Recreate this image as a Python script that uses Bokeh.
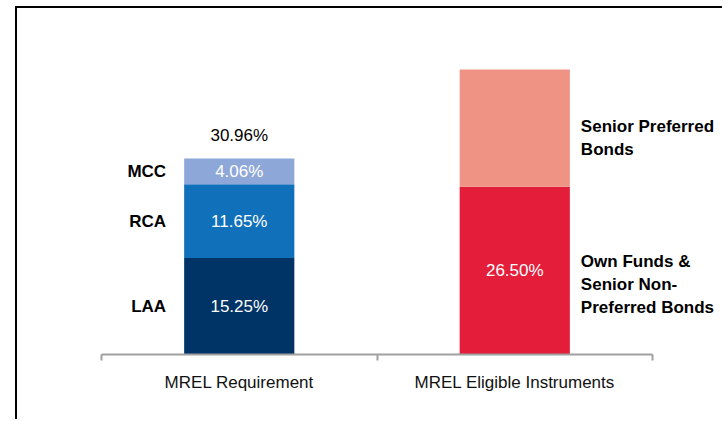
from bokeh.plotting import figure
from bokeh.models import ColumnDataSource, Range1d, FixedTicker
from bokeh.core.properties import value
from bokeh.embed import file_html
from bokeh.resources import INLINE

# ---- data ----
categories = ["MREL Requirement", "MREL Eligible Instruments"]
req_components = ["LAA", "RCA", "MCC"]
req_values = [15.25, 11.65, 4.06]
req_colors = ["#003366", "#1170BA", "#8DA8D8"]
req_total_label = "30.96%"

elig_components = ["Own Funds &\nSenior Non-\nPreferred Bonds", "Senior Preferred\nBonds"]
elig_values = [26.50, 18.5]
elig_value_labels = ["26.50%", ""]
elig_colors = ["#E31D3A", "#EF9385"]

FONT = "Liberation Sans"
FS = "17px"

# frame: left 84px, extends to the canvas' right edge so labels beside the bar are not clipped
p = figure(width=707, height=413, output_backend="svg", toolbar_location=None,
           x_range=Range1d(0, 2.2613), y_range=Range1d(0, 49.6),
           min_border_left=84, min_border_right=0, min_border_top=32, min_border_bottom=67)
p.styles = {"margin-left": "15px", "margin-top": "6px",
            "border-left": "2px solid black", "border-top": "2px solid black"}
p.outline_line_color = None
p.xgrid.visible = False
p.ygrid.visible = False
p.yaxis.visible = False

def stack(vals):
    bottoms, tops = [], []
    acc = 0.0
    for v in vals:
        bottoms.append(acc)
        acc += v
        tops.append(acc)
    return bottoms, tops

xc = [0.5, 1.5]
bw = 0.4

rb, rt = stack(req_values)
src_r = ColumnDataSource(dict(x=[xc[0]] * len(req_values), bottom=rb, top=rt,
                              mid=[(a + b) / 2 for a, b in zip(rb, rt)],
                              color=req_colors, name=req_components,
                              lab=[f"{v:.2f}%" for v in req_values],
                              xl=[xc[0] - bw / 2] * len(req_values)))
p.vbar(x="x", bottom="bottom", top="top", width=bw, fill_color="color", line_color=None, source=src_r)
p.text(x="x", y="mid", text="lab", source=src_r, text_color="white", text_align="center",
       text_baseline="middle", text_font=value(FONT), text_font_size=FS)
p.text(x="xl", y="mid", text="name", source=src_r, text_color="black", text_align="right",
       text_baseline="middle", text_font=value(FONT), text_font_size=FS,
       text_font_style="bold", x_offset=-18)
p.text(x=[xc[0]], y=[rt[-1]], text=[req_total_label], text_color="black", text_align="center",
       text_baseline="middle", text_font=value(FONT), text_font_size=FS, y_offset=-23)

eb, et = stack(elig_values)
src_e = ColumnDataSource(dict(x=[xc[1]] * len(elig_values), bottom=eb, top=et,
                              mid=[(a + b) / 2 for a, b in zip(eb, et)],
                              color=elig_colors, name=elig_components, lab=elig_value_labels,
                              xr=[xc[1] + bw / 2] * len(elig_values),
                              yo=[14, 10]))
p.vbar(x="x", bottom="bottom", top="top", width=bw, fill_color="color", line_color=None, source=src_e)
p.text(x="x", y="mid", text="lab", source=src_e, text_color="white", text_align="center",
       text_baseline="middle", text_font=value(FONT), text_font_size=FS)
p.text(x="xr", y="mid", text="name", source=src_e, text_color="black", text_align="left",
       text_baseline="middle", text_font=value(FONT), text_font_size=FS,
       text_font_style="bold", x_offset=11, y_offset="yo", text_line_height=1.2)

# axis (line and ticks limited to the two category slots)
ax = p.xaxis[0]
ax.bounds = (0, 2)
ax.ticker = FixedTicker(ticks=xc, minor_ticks=[0, 1, 2])
ax.major_label_overrides = {xc[i]: categories[i] for i in range(len(categories))}
ax.major_tick_out = 0
ax.major_tick_in = 0
ax.minor_tick_out = 6
ax.minor_tick_in = 0
ax.minor_tick_line_color = "#A0A0A0"
ax.minor_tick_line_width = 2
ax.axis_line_color = "#A0A0A0"
ax.axis_line_width = 2
ax.major_label_standoff = 12
ax.major_label_text_font = FONT
ax.major_label_text_font_size = FS
ax.major_label_text_color = "#111111"

open("out.html", "w").write(file_html(p, INLINE))
